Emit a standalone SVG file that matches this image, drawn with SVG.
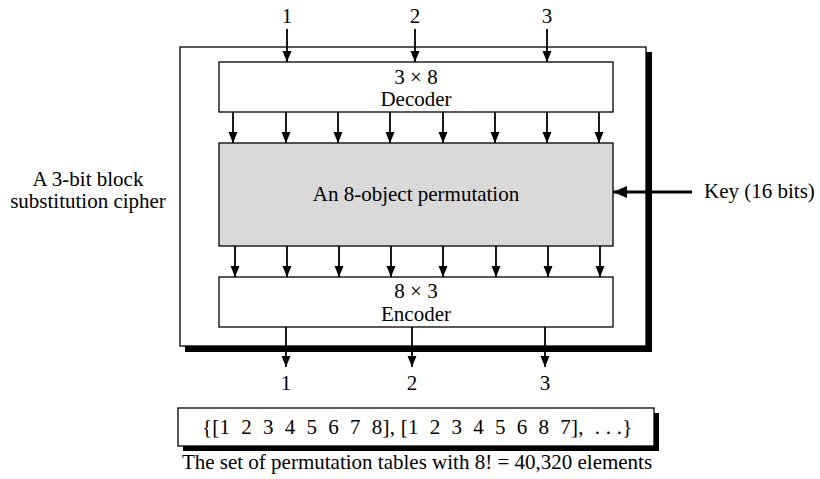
<svg xmlns="http://www.w3.org/2000/svg" width="820" height="479" viewBox="0 0 820 479">
<defs>
<style>
text{font-family:"Liberation Serif","Times New Roman",serif;font-size:21px;fill:#000;white-space:pre}
.c{text-anchor:middle}
.box{fill:#fff;stroke:#000;stroke-width:1.3}
.gray{fill:#d9d9d9;stroke:#000;stroke-width:1.3}
.shadow{fill:#000}
.w{stroke:#000;stroke-width:1.8;fill:none}
.k{stroke:#000;stroke-width:3;fill:none}
</style>
<marker id="ah" markerWidth="11" markerHeight="11" refX="11" refY="5.5" orient="auto" markerUnits="userSpaceOnUse">
<path d="M0,1 L11,5.5 L0,10 z" fill="#000"/>
</marker>
<marker id="ahk" markerWidth="14" markerHeight="12" refX="14" refY="6" orient="auto" markerUnits="userSpaceOnUse">
<path d="M0,0 L14,6 L0,12 z" fill="#000"/>
</marker>
</defs>

<g id="cipher">
<rect class="shadow" x="185" y="52" width="467" height="300"/>
<rect class="box" x="180" y="47" width="466" height="299"/>
</g>
<g id="cipher-label">
<text class="c" x="88" y="186">A 3-bit block</text>
<text class="c" x="88" y="208">substitution cipher</text>
</g>

<g id="decoder">
<rect class="box" x="219" y="62" width="394" height="50"/>
<text class="c" x="416" y="84">3 × 8</text>
<text class="c" x="416" y="106">Decoder</text>
</g>

<g id="permutation">
<rect class="gray" x="219" y="143" width="394" height="103"/>
<text class="c" x="416" y="201">An 8-object permutation</text>
</g>

<g id="encoder">
<rect class="box" x="219" y="277" width="394" height="50"/>
<text class="c" x="416" y="298">8 × 3</text>
<text class="c" x="416" y="321">Encoder</text>
</g>

<g id="key">
<text x="704" y="198">Key (16 bits)</text>
</g>

<g id="inputs">
<text class="c" x="287" y="23">1</text>
<text class="c" x="415" y="23">2</text>
<text class="c" x="547" y="23">3</text>
</g>

<g id="outputs">
<text class="c" x="286" y="390">1</text>
<text class="c" x="412" y="390">2</text>
<text class="c" x="545" y="390">3</text>
</g>

<g id="permutation-set">
<rect class="shadow" x="183" y="413" width="476" height="38"/>
<rect class="box" x="178" y="408" width="476" height="38"/>
<text x="202" y="434" letter-spacing="0.25">{[1  2  3  4  5  6  7  8], [1  2  3  4  5  6  8  7],  . . .}</text>
</g>
<g id="caption">
<text class="c" x="417" y="469">The set of permutation tables with 8! = 40,320 elements</text>
</g>

<g id="connectors">
<line class="w" x1="287" y1="29" x2="287" y2="62" marker-end="url(#ah)"/>
<line class="w" x1="415" y1="29" x2="415" y2="62" marker-end="url(#ah)"/>
<line class="w" x1="547" y1="29" x2="547" y2="62" marker-end="url(#ah)"/>

<line class="w" x1="233" y1="112" x2="233" y2="143" marker-end="url(#ah)"/>
<line class="w" x1="286" y1="112" x2="286" y2="143" marker-end="url(#ah)"/>
<line class="w" x1="338" y1="112" x2="338" y2="143" marker-end="url(#ah)"/>
<line class="w" x1="390" y1="112" x2="390" y2="143" marker-end="url(#ah)"/>
<line class="w" x1="443" y1="112" x2="443" y2="143" marker-end="url(#ah)"/>
<line class="w" x1="495" y1="112" x2="495" y2="143" marker-end="url(#ah)"/>
<line class="w" x1="547" y1="112" x2="547" y2="143" marker-end="url(#ah)"/>
<line class="w" x1="599" y1="112" x2="599" y2="143" marker-end="url(#ah)"/>

<line class="w" x1="235" y1="246" x2="235" y2="277" marker-end="url(#ah)"/>
<line class="w" x1="287" y1="246" x2="287" y2="277" marker-end="url(#ah)"/>
<line class="w" x1="339" y1="246" x2="339" y2="277" marker-end="url(#ah)"/>
<line class="w" x1="391" y1="246" x2="391" y2="277" marker-end="url(#ah)"/>
<line class="w" x1="443" y1="246" x2="443" y2="277" marker-end="url(#ah)"/>
<line class="w" x1="496" y1="246" x2="496" y2="277" marker-end="url(#ah)"/>
<line class="w" x1="548" y1="246" x2="548" y2="277" marker-end="url(#ah)"/>
<line class="w" x1="600" y1="246" x2="600" y2="277" marker-end="url(#ah)"/>

<line class="w" x1="286" y1="327" x2="286" y2="367" marker-end="url(#ah)"/>
<line class="w" x1="412" y1="327" x2="412" y2="367" marker-end="url(#ah)"/>
<line class="w" x1="545" y1="327" x2="545" y2="367" marker-end="url(#ah)"/>

<line class="k" x1="692" y1="192" x2="613" y2="192" marker-end="url(#ahk)"/>
</g>
</svg>
